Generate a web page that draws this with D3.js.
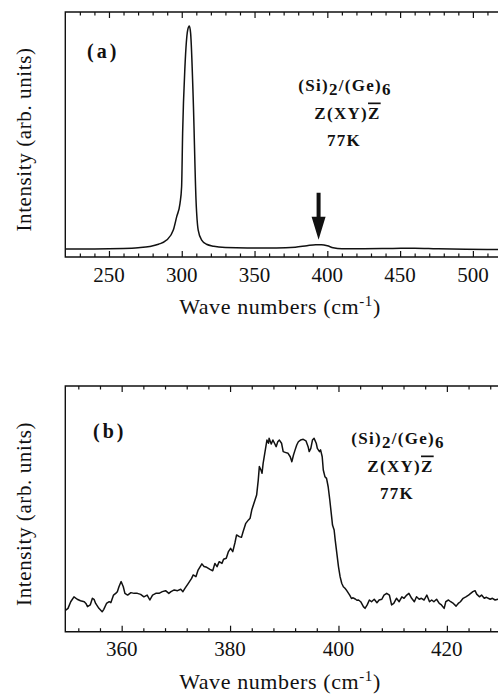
<!DOCTYPE html>
<html>
<head>
<meta charset="utf-8">
<script src="https://cdn.jsdelivr.net/npm/d3@7"></script>
<style>
  body { margin: 0; background: #fff; }
  text { font-family: "Liberation Serif", "Times New Roman", serif; fill: #111; }
  .tick-label { font-size: 21px; }
  .axis-title { font-size: 22px; letter-spacing: 0.6px; }
  .panel-tag { font-size: 20px; font-weight: bold; letter-spacing: 3px; }
  .note { font-size: 17px; font-weight: bold; letter-spacing: 1.3px; }
</style>
</head>
<body>
<script>
const W = 498, H = 696;

// panel (a): wide spectrum
const waveA = [220, 240, 260, 270, 278, 284, 289.6, 294.2, 296.5, 298.8, 299.9, 300.6, 302.2, 304.1, 305.2,
  306.1, 307.9, 309.8, 311.3, 313.7, 317, 322, 330, 345, 365, 378, 386, 392, 396, 400, 404, 410, 425, 445,
  460, 475, 495, 520];
const intensA = [3.3, 3.3, 3.5, 3.8, 4.3, 5.2, 6.9, 11, 16.4, 21.9, 28.7, 50.5, 77.7, 92.7, 94.3,
  91.3, 64.1, 23.3, 11, 6.9, 5.2, 4.4, 3.9, 3.7, 3.7, 4.0, 4.6, 5.0, 5.0, 4.6, 3.8, 3.4, 3.4, 3.5,
  3.6, 3.4, 3.2, 3.0];
const ticksA = [250, 300, 350, 400, 450, 500];
const arrowAt = 394;

// panel (b): zoom on the Si-Ge band
const waveB = [
  349.7, 350.1, 350.6, 351.2, 351.8, 352.4, 353.1, 353.4, 353.7, 354.2,
  354.6, 354.9, 355.2, 355.8, 356.4, 356.7, 357.2, 357.7, 358.0, 358.5,
  358.9, 359.2, 359.5, 359.9, 360.3, 360.6, 361.1, 361.7, 362.3, 362.9,
  363.5, 364.1, 364.7, 365.2, 365.7, 366.3, 366.9, 367.5, 368.1, 368.7,
  369.1, 369.7, 370.3, 370.9, 371.3, 371.7, 372.3, 372.9, 373.2, 373.7,
  374.1, 374.8, 375.2, 375.7, 376.3, 376.8, 377.2, 377.6, 378.0, 378.5,
  378.8, 379.3, 379.7, 380.1, 380.5, 380.9, 381.2, 381.7, 382.1, 382.4,
  382.9, 383.4, 383.7, 384.0, 384.3, 384.6, 384.9, 385.2, 385.4, 385.7,
  385.9, 386.1, 386.4, 386.8, 387.1, 387.2, 387.6, 387.9, 388.2, 388.5,
  388.8, 389.1, 389.5, 389.8, 390.3, 390.7, 391.1, 391.4, 391.7, 392.0,
  392.3, 392.6, 393.0, 393.5, 394.0, 394.4, 394.6, 394.9, 395.2, 395.5,
  395.9, 396.1, 396.5, 396.7, 397.0, 397.2, 397.5, 397.8, 398.1, 398.4,
  398.8, 398.9, 399.2, 399.4, 399.7, 400.0, 400.3, 400.6, 400.9, 401.2,
  401.5, 402.1, 402.4, 402.7, 403.1, 403.4, 403.7, 404.1, 404.6, 404.9,
  405.3, 405.7, 406.1, 406.6, 407.1, 407.5, 408.0, 408.4, 408.9, 409.4,
  409.8, 410.2, 410.7, 411.2, 411.7, 412.1, 412.6, 413.0, 413.5, 414.0,
  414.4, 414.9, 415.3, 415.8, 416.3, 416.8, 417.2, 417.6, 418.1, 418.6,
  419.0, 419.5, 419.8, 420.3, 420.7, 421.2, 421.7, 422.1, 422.5, 423.0,
  423.5, 424.0, 424.4, 424.8, 425.2, 425.5, 426.0, 426.4, 426.9, 427.3,
  428.0, 428.4, 428.9, 429.4, 430.0];
const intensB = [
  8.8, 9.5, 12.2, 14.2, 13.2, 12.6, 12.2, 11.5, 10.2, 10.9,
  13.6, 13.2, 11.5, 9.5, 8.1, 9.1, 11.5, 12.2, 11.8, 14.9,
  15.6, 16.3, 18.3, 20.4, 18.3, 15.6, 14.9, 15.9, 15.6, 15.6,
  15.2, 14.2, 14.9, 12.9, 14.9, 15.6, 15.6, 16.3, 16.7, 15.6,
  16.3, 17.0, 16.7, 17.3, 16.3, 17.7, 19.7, 21.7, 23.1, 22.4,
  25.1, 27.6, 26.5, 26.2, 25.4, 24.8, 27.8, 26.5, 28.5, 27.8,
  29.5, 29.9, 32.6, 33.9, 32.6, 36.2, 39.4, 38.7, 38.4, 40.7,
  44.1, 45.5, 46.2, 49.5, 51.6, 53.6, 55.6, 61.7, 67.2, 65.8,
  64.5, 68.5, 72.6, 78.0, 76.7, 78.7, 76.4, 78.0, 76.7, 75.3,
  77.3, 78.0, 76.7, 73.3, 72.9, 72.6, 71.2, 69.2, 71.9, 74.0,
  76.0, 77.3, 78.0, 78.3, 77.7, 75.3, 73.3, 74.6, 78.0, 78.7,
  76.7, 74.6, 73.3, 74.0, 71.2, 65.8, 63.1, 62.4, 59.0, 53.6,
  45.5, 43.4, 41.4, 37.3, 31.9, 26.5, 22.4, 19.7, 18.3, 17.7,
  16.8, 14.8, 13.5, 13.8, 13.3, 12.8, 12.9, 12.2, 10.2, 9.5,
  10.9, 12.9, 12.2, 13.2, 11.8, 12.9, 13.2, 14.9, 15.6, 14.9,
  10.9, 11.5, 13.6, 12.2, 14.2, 13.6, 14.9, 15.6, 13.6, 12.2,
  14.2, 13.2, 13.6, 12.9, 14.9, 12.2, 12.9, 12.2, 13.2, 11.5,
  10.9, 9.5, 12.2, 12.9, 12.2, 11.5, 10.4, 11.5, 12.2, 13.6,
  14.2, 14.9, 15.6, 16.3, 16.7, 15.3, 14.2, 14.9, 13.6, 14.0,
  13.2, 13.6, 12.9, 13.2, 13.0];
const ticksB = [360, 380, 400, 420];

const noteLines = ["(Si)2/(Ge)6", "Z(XY)Z", "77K"];

let svg = d3.select("body")
            .append("svg")
            .attr("width", W)
            .attr("height", H);

const LEFT = 65.3, RIGHT = 502;

function panel(cfg) {
  const x = d3.scaleLinear().domain(cfg.xDomain).range([LEFT, RIGHT]);
  const y = d3.scaleLinear().domain([0, 100]).range([cfg.bottom, cfg.top]);
  const g = svg.append("g");

  // frame (right edge falls outside the picture)
  g.append("path")
   .attr("d", `M${RIGHT + 5},${cfg.top}H${LEFT}V${cfg.bottom}H${RIGHT + 5}`)
   .attr("fill", "none").attr("stroke", "#111").attr("stroke-width", 1.4);

  const minor = d3.range(cfg.minorStart, cfg.xDomain[1], cfg.minorStep)
                  .filter(v => !cfg.ticks.includes(v));

  const addTicks = (axisFn, yPos, vals, len) => {
    const a = g.append("g")
               .attr("transform", `translate(0,${yPos})`)
               .call(axisFn(x).tickValues(vals).tickSize(len).tickFormat(""));
    a.select(".domain").remove();
    a.selectAll("line").attr("stroke", "#111").attr("stroke-width", 1.2);
  };
  addTicks(d3.axisBottom, cfg.bottom, cfg.ticks, -6);
  addTicks(d3.axisBottom, cfg.bottom, minor, -3.5);
  addTicks(d3.axisTop, cfg.top, cfg.ticks, -6);
  addTicks(d3.axisTop, cfg.top, minor, -3.5);

  g.selectAll("text.tick-label")
   .data(cfg.ticks).enter()
   .append("text")
   .attr("class", "tick-label")
   .attr("x", d => x(d))
   .attr("y", cfg.bottom + 24.5)
   .attr("text-anchor", "middle")
   .text(d => d);

  // spectrum
  const line = d3.line()
                 .x(d => x(d[0]))
                 .y(d => y(d[1]))
                 .curve(cfg.curve);
  g.append("path")
   .datum(d3.zip(cfg.wave, cfg.intens))
   .attr("d", line)
   .attr("fill", "none")
   .attr("stroke", "#111")
   .attr("stroke-width", 1.5)
   .attr("stroke-linejoin", "round");

  // axis titles
  const xt = g.append("text")
              .attr("class", "axis-title")
              .attr("x", 280)
              .attr("y", cfg.bottom + 57)
              .attr("text-anchor", "middle");
  xt.append("tspan").text("Wave numbers (cm");
  xt.append("tspan").attr("dy", -8).attr("font-size", 15).text("-1");
  xt.append("tspan").attr("dy", 8).text(")");

  g.append("text")
   .attr("class", "axis-title")
   .style("font-size", "21px")
   .attr("transform", `translate(31,${(cfg.top + cfg.bottom) / 2 + 5}) rotate(-90)`)
   .attr("text-anchor", "middle")
   .text("Intensity (arb. units)");

  g.append("text")
   .attr("class", "panel-tag")
   .attr("x", cfg.tagX)
   .attr("y", cfg.tagY)
   .text(cfg.tag);

  // sample note
  const n1 = g.append("text").attr("class", "note")
              .attr("x", cfg.noteX).attr("y", cfg.noteY).attr("text-anchor", "middle");
  n1.append("tspan").text("(Si)");
  n1.append("tspan").attr("dy", 4).text("2");
  n1.append("tspan").attr("dy", -4).text("/(Ge)");
  n1.append("tspan").attr("dy", 4).text("6");

  const n2 = g.append("text").attr("class", "note")
              .attr("x", cfg.noteX + 2.5).attr("y", cfg.noteY + 27.5).attr("text-anchor", "middle");
  n2.append("tspan").text("Z(XY)");
  n2.append("tspan").style("text-decoration", "overline").text("Z");

  g.append("text").attr("class", "note")
   .attr("x", cfg.noteX - 1).attr("y", cfg.noteY + 54.5).attr("text-anchor", "middle")
   .text(noteLines[2]);

  return { x, y, g };
}

const pa = panel({
  xDomain: [220, 520], top: 12, bottom: 257,
  ticks: ticksA, minorStart: 230, minorStep: 10,
  wave: waveA, intens: intensA, curve: d3.curveMonotoneX,
  tag: "(a)", tagX: 87, tagY: 58,
  noteX: 345, noteY: 91
});

// arrow over the small band in (a)
const ax = pa.x(arrowAt), tipY = pa.y(7);
pa.g.append("path")
   .attr("d", `M${ax - 2},${tipY - 47}H${ax + 2}V${tipY - 23}H${ax + 7}L${ax},${tipY}L${ax - 7},${tipY - 23}H${ax - 2}Z`)
   .attr("fill", "#111");

panel({
  xDomain: [349.6, 349.6 + (RIGHT - LEFT) / 5.42], top: 386, bottom: 631.7,
  ticks: ticksB, minorStart: 352, minorStep: 4,
  wave: waveB, intens: intensB, curve: d3.curveLinear,
  tag: "(b)", tagX: 93, tagY: 438,
  noteX: 398, noteY: 444
});
</script>
</body>
</html>
